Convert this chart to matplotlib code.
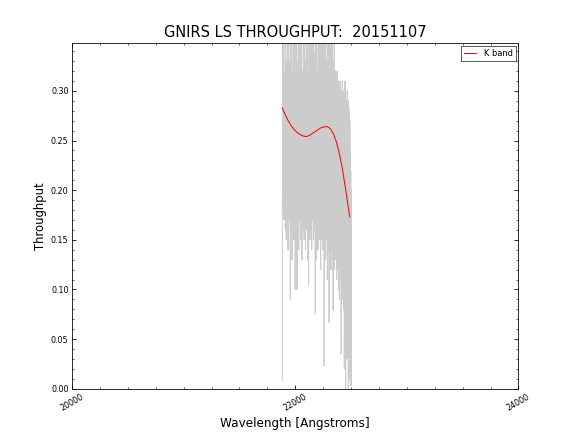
import matplotlib
matplotlib.use("Agg")
import matplotlib.pyplot as plt
from matplotlib.ticker import MultipleLocator, FormatStrFormatter
import numpy as np

# measured spectrum on a uniform wavelength grid
wave_start = 21884.0
wave_step = 2.0
throughput = [
    0.008, 0.38, 0.19, 0.31, 0.18, 0.29, 0.20, 0.37, 0.17, 0.30,
    0.21, 0.32, 0.18, 0.28, 0.16, 0.40, 0.19, 0.30, 0.15, 0.33,
    0.20, 0.29, 0.17, 0.36, 0.19, 0.31, 0.14, 0.28, 0.18, 0.42,
    0.20, 0.30, 0.17, 0.33, 0.19, 0.29, 0.09, 0.37, 0.18, 0.31,
    0.16, 0.28, 0.20, 0.44, 0.13, 0.30, 0.19, 0.32, 0.17, 0.29,
    0.21, 0.38, 0.15, 0.31, 0.18, 0.27, 0.19, 0.35, 0.10, 0.30,
    0.17, 0.32, 0.12, 0.29, 0.19, 0.41, 0.10, 0.30, 0.18, 0.28,
    0.16, 0.33, 0.20, 0.37, 0.14, 0.30, 0.19, 0.29, 0.17, 0.45,
    0.18, 0.31, 0.15, 0.28, 0.20, 0.34, 0.17, 0.39, 0.13, 0.30,
    0.19, 0.32, 0.16, 0.29, 0.18, 0.36, 0.20, 0.31, 0.15, 0.28,
    0.18, 0.43, 0.17, 0.30, 0.14, 0.33, 0.19, 0.29, 0.16, 0.38,
    0.20, 0.31, 0.17, 0.28, 0.13, 0.35, 0.18, 0.32, 0.105, 0.30,
    0.17, 0.29, 0.19, 0.40, 0.15, 0.31, 0.18, 0.28, 0.16, 0.36,
    0.20, 0.30, 0.14, 0.33, 0.18, 0.46, 0.17, 0.29, 0.19, 0.31,
    0.15, 0.37, 0.18, 0.30, 0.16, 0.28, 0.20, 0.34, 0.076, 0.39,
    0.17, 0.31, 0.13, 0.29, 0.19, 0.42, 0.16, 0.30, 0.18, 0.32,
    0.14, 0.28, 0.20, 0.36, 0.17, 0.31, 0.15, 0.29, 0.19, 0.44,
    0.16, 0.30, 0.12, 0.33, 0.18, 0.28, 0.17, 0.38, 0.15, 0.31,
    0.19, 0.29, 0.14, 0.41, 0.17, 0.30, 0.18, 0.32, 0.023, 0.36,
    0.16, 0.28, 0.19, 0.31, 0.13, 0.39, 0.17, 0.29, 0.15, 0.33,
    0.18, 0.30, 0.11, 0.43, 0.16, 0.28, 0.19, 0.35, 0.14, 0.31,
    0.067, 0.29, 0.17, 0.37, 0.15, 0.30, 0.18, 0.32, 0.12, 0.40,
    0.16, 0.28, 0.14, 0.31, 0.17, 0.36, 0.13, 0.29, 0.079, 0.33,
    0.15, 0.30, 0.16, 0.38, 0.12, 0.29, 0.14, 0.32, 0.17, 0.28,
    0.13, 0.31, 0.15, 0.29, 0.11, 0.32, 0.14, 0.30, 0.12, 0.28,
    0.15, 0.31, 0.10, 0.29, 0.13, 0.30, 0.09, 0.27, 0.14, 0.31,
    0.12, 0.28, 0.11, 0.30, 0.035, 0.29, 0.13, 0.27, 0.10, 0.31,
    0.12, 0.26, 0.09, 0.30, 0.11, 0.28, 0.08, 0.29, 0.02, 0.27,
    0.10, 0.31, 0.12, 0.26, 0.00, 0.29, 0.09, 0.28, 0.11, 0.25,
    0.03, 0.30, 0.08, 0.27, 0.10, 0.29, 0.00, 0.26, 0.07, 0.28,
    0.09, 0.25, 0.01, 0.27, 0.08, 0.24, 0.06, 0.22, 0.003, 0.20,
]
wave = wave_start + wave_step * np.arange(len(throughput))

# K band fit
fit_wave = [21883, 21910, 21937, 21964, 21991, 22018, 22045, 22072, 22099,
            22126, 22152, 22179, 22206, 22233, 22260, 22287, 22314, 22341,
            22368, 22395, 22422, 22449, 22475, 22489]
fit_tp = [0.283, 0.276, 0.270, 0.265, 0.261, 0.258, 0.256, 0.2545, 0.254,
          0.255, 0.257, 0.259, 0.261, 0.263, 0.2638, 0.264, 0.262, 0.257,
          0.249, 0.237, 0.222, 0.203, 0.183, 0.173]

fig, ax = plt.subplots(figsize=(8, 6), dpi=72)
fig.subplots_adjust(left=0.125, right=0.9, bottom=0.1, top=0.9)

ax.plot(wave, throughput, color='#cccccc', lw=1)
ax.plot(fit_wave, fit_tp, color='red', lw=1, label='K band')

ax.set_xlim(20000, 24000)
ax.set_ylim(0, 0.348)
ax.xaxis.set_major_locator(MultipleLocator(2000))
ax.xaxis.set_minor_locator(MultipleLocator(250))
ax.yaxis.set_major_locator(MultipleLocator(0.05))
ax.yaxis.set_minor_locator(MultipleLocator(0.01))
ax.yaxis.set_major_formatter(FormatStrFormatter('%.2f'))
ax.tick_params(which='both', direction='in', top=True, right=True, labelsize=8)
ax.tick_params(which='major', length=4)
ax.tick_params(which='minor', length=2)
for lab in ax.get_xticklabels():
    lab.set_rotation(30)
    lab.set_ha('center')

ax.set_title('GNIRS LS THROUGHPUT:  20151107', fontsize=14.6)
ax.set_xlabel('Wavelength [Angstroms]', fontsize=12)
ax.set_ylabel('Throughput', fontsize=11.6)
leg = ax.legend(loc='upper right', fontsize=8.3, fancybox=False, handlelength=1.4,
                handletextpad=1.0, borderpad=0.35, borderaxespad=0.3)
leg.get_frame().set_edgecolor('black')
leg.get_frame().set_linewidth(0.8)

plt.savefig('out.png', dpi=72)
